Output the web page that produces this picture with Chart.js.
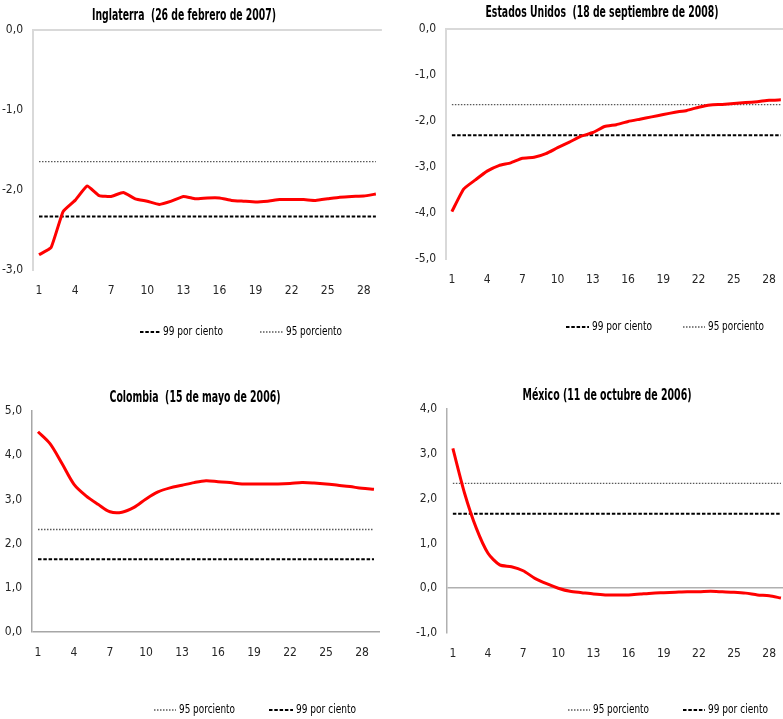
<!DOCTYPE html>
<html>
<head>
<meta charset="utf-8">
<script src="https://cdn.jsdelivr.net/npm/chart.js@4.4.1/dist/chart.umd.min.js"></script>
<style>
body{margin:0;background:#fff;width:783px;height:719px;overflow:hidden;position:relative}
.panel{position:absolute;overflow:hidden}
</style>
</head>
<body>
<div class="panel" style="left:0;top:0;width:390px;height:350px"><canvas id="g1" width="390" height="350"></canvas></div>
<div class="panel" style="left:390px;top:0;width:393px;height:350px"><canvas id="g2" width="405" height="350"></canvas></div>
<div class="panel" style="left:0;top:380px;width:390px;height:339px"><canvas id="g3" width="390" height="339"></canvas></div>
<div class="panel" style="left:390px;top:380px;width:393px;height:339px"><canvas id="g4" width="405" height="339"></canvas></div>
<script>
// periodos (eje x)
const periodos = ['1','2','3','4','5','6','7','8','9','10','11','12','13','14','15','16','17','18','19','20','21','22','23','24','25','26','27','28','29'];

const titulos = [
  'Inglaterra  (26 de febrero de 2007)',
  'Estados Unidos  (18 de septiembre de 2008)',
  'Colombia  (15 de mayo de 2006)',
  'México (11 de octubre de 2006)'
];

const inglaterra = [-2.81,-2.72,-2.27,-2.13,-1.95,-2.07,-2.08,-2.03,-2.11,-2.14,-2.18,-2.14,-2.08,-2.11,-2.10,-2.10,-2.13,-2.14,-2.15,-2.14,-2.12,-2.12,-2.12,-2.13,-2.11,-2.09,-2.08,-2.075,-2.05];
const estadosUnidos = [-3.97,-3.48,-3.28,-3.09,-2.97,-2.91,-2.81,-2.79,-2.71,-2.58,-2.46,-2.33,-2.25,-2.12,-2.08,-2.01,-1.96,-1.91,-1.86,-1.81,-1.77,-1.70,-1.65,-1.64,-1.62,-1.60,-1.58,-1.55,-1.54];
const colombia = [4.53,4.26,3.81,3.34,3.08,2.89,2.72,2.71,2.82,3.01,3.17,3.26,3.32,3.38,3.42,3.40,3.38,3.35,3.35,3.35,3.35,3.36,3.38,3.37,3.35,3.32,3.29,3.25,3.23];
const mexico = [3.12,2.12,1.34,0.78,0.52,0.48,0.39,0.22,0.10,0.0,-0.07,-0.10,-0.13,-0.15,-0.15,-0.15,-0.13,-0.11,-0.10,-0.09,-0.08,-0.08,-0.07,-0.08,-0.09,-0.11,-0.15,-0.17,-0.22];

// valores criticos [95, 99]
const umbralInglaterra = [-1.645, -2.33];
const umbralEEUU = [-1.645, -2.31];
const umbralColombia = [2.32, 1.645];
const umbralMexico = [2.34, 1.66];

// rangos del eje y
const rangoY = [[-3,0],[-5,0],[0,5],[-1,4]];

const fuente = '"DejaVu Sans Condensed", "Liberation Sans Narrow", "Liberation Sans", sans-serif';

const rotulos = {
  id: 'rotulos',
  afterDraw(chart, args, o) {
    const ctx = chart.ctx;
    ctx.save();
    ctx.fillStyle = '#000';
    ctx.textBaseline = 'middle';
    ctx.textAlign = 'center';
    ctx.font = 'bold 15px ' + fuente;
    ctx.fillText(o.titulo, o.tx, o.ty, o.tw);
    ctx.font = '13px ' + fuente;
    ctx.textAlign = 'left';
    o.items.forEach(function(it){
      const ds = chart.data.datasets[it.ds];
      ctx.strokeStyle = ds.borderColor;
      ctx.lineWidth = ds.borderWidth;
      ctx.setLineDash(ds.borderDash || []);
      ctx.beginPath();
      ctx.moveTo(it.x, o.ly);
      ctx.lineTo(it.x + it.w, o.ly);
      ctx.stroke();
      ctx.setLineDash([]);
      ctx.fillStyle = '#000';
      ctx.fillText(ds.label, it.x + it.w + 3, o.ly, ds.label.length > 12 ? 60 : 56);
    });
    ctx.restore();
  }
};

function linea(valor){
  return [{x: periodos[0], y: valor}, {x: periodos[periodos.length-1], y: valor}];
}

function panel(id, serie, umbral, rango, area, suave, eje, rot){
  const cv = document.getElementById(id);
  const W = cv.width, H = cv.height;
  new Chart(cv, {
    type: 'line',
    data: {
      labels: periodos,
      datasets: [{
        label: 'serie',
        data: serie,
        borderColor: '#ff0000',
        borderWidth: 3,
        pointRadius: 0,
        tension: suave
      },{
        label: '95 porciento',
        data: linea(umbral[0]),
        borderColor: '#595959',
        borderWidth: 1.4,
        borderDash: [1.5, 1.5],
        pointRadius: 0
      },{
        label: '99 por ciento',
        data: linea(umbral[1]),
        borderColor: '#000',
        borderWidth: 2,
        borderDash: [3.5, 1.8],
        pointRadius: 0
      }]
    },
    options: {
      responsive: false,
      animation: false,
      layout: {padding: {left: 0, top: area.t, right: W - area.r, bottom: 0}},
      plugins: {
        legend: {display: false},
        tooltip: {enabled: false},
        rotulos: rot
      },
      scales: {
        x: {
          offset: true,
          grid: {display: false, drawTicks: false},
          border: {display: false},
          ticks: {
            autoSkip: false, maxRotation: 0, padding: 14,
            color: '#262626', font: {family: fuente, size: 12},
            callback: function(v, i){ return i % 3 === 0 ? periodos[i] : ''; }
          },
          afterFit: function(s){ s.height = H - area.b; }
        },
        y: {
          min: rango[0], max: rango[1],
          grid: {
            drawTicks: false, lineWidth: eje.w,
            color: function(c){ return c.tick && c.tick.value === 0 ? eje.c : 'rgba(0,0,0,0)'; }
          },
          border: {display: true, color: eje.c, width: eje.w},
          ticks: {
            stepSize: 1, padding: 10, color: '#262626',
            font: {family: fuente, size: 12},
            callback: function(v){ return v.toFixed(1).replace('.', ','); }
          },
          afterFit: function(s){ s.width = area.l; }
        }
      }
    },
    plugins: [rotulos]
  });
}

panel('g1', inglaterra, umbralInglaterra, rangoY[0], {l:33, r:382, t:30, b:270}, 0.12, {c:'#d9d9d9', w:2},
  {titulo: titulos[0], tx: 184, ty: 16, tw: 184, ly: 332, items: [{ds:2, x:140, w:20}, {ds:1, x:260, w:23}]});
panel('g2', estadosUnidos, umbralEEUU, rangoY[1], {l:56, r:397, t:29, b:259}, 0.15, {c:'#d9d9d9', w:2},
  {titulo: titulos[1], tx: 212, ty: 13, tw: 233, ly: 327, items: [{ds:2, x:176, w:23}, {ds:1, x:293, w:22}]});
panel('g3', colombia, umbralColombia, rangoY[2], {l:32, r:380, t:31, b:252}, 0.3, {c:'#a6a6a6', w:1.5},
  {titulo: titulos[2], tx: 195, ty: 18, tw: 171, ly: 330, items: [{ds:1, x:154, w:22}, {ds:2, x:269, w:24}]});
panel('g4', mexico, umbralMexico, rangoY[3], {l:57, r:401, t:29, b:253}, 0.25, {c:'#b0b0b0', w:1.5},
  {titulo: titulos[3], tx: 217, ty: 16, tw: 169, ly: 330, items: [{ds:1, x:178, w:22}, {ds:2, x:293, w:22}]});
</script>
</body>
</html>
